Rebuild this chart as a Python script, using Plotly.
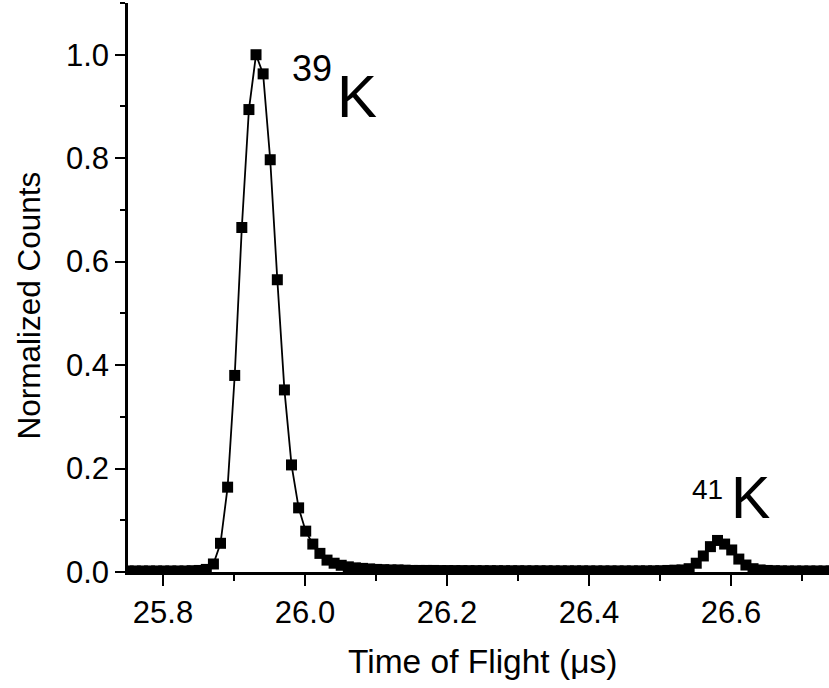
import plotly.graph_objects as go

# Time-of-flight bins (microseconds), 10 ns spacing
tof_start = 25.751
tof_step = 0.01

# Normalized counts per bin
counts = [
    # 25.751 - 25.851 : baseline before 39K
    0.002, 0.002, 0.002, 0.002, 0.002, 0.002, 0.002, 0.002, 0.002, 0.0025, 0.003,
    # 25.861 - 26.041 : 39K peak
    0.005, 0.0155, 0.0555, 0.164, 0.380, 0.666, 0.894, 1.000, 0.963, 0.797,
    0.565, 0.352, 0.207, 0.124, 0.079, 0.054, 0.036, 0.023, 0.017,
    # 26.051 - 26.151 : tail
    0.013, 0.010, 0.008, 0.007, 0.006, 0.005, 0.0045, 0.004, 0.004, 0.0035, 0.003,
    # 26.161 - 26.531 : baseline between peaks
    0.003, 0.003, 0.003, 0.0028, 0.0028, 0.0027, 0.0027, 0.0026, 0.0026, 0.0025,
    0.0025, 0.0025, 0.0024, 0.0024, 0.0024, 0.0023, 0.0023, 0.0023, 0.0023, 0.0022,
    0.0022, 0.0022, 0.0022, 0.0022, 0.0021, 0.0021, 0.0021, 0.0021, 0.0021, 0.0021,
    0.0021, 0.0022, 0.0022, 0.0023, 0.0025, 0.003, 0.0035, 0.004,
    # 26.541 - 26.631 : 41K peak
    0.0064, 0.017, 0.031, 0.049, 0.061, 0.054, 0.0426, 0.025, 0.0135, 0.0064,
    # 26.641 - 26.741 : baseline after 41K
    0.004, 0.003, 0.0025, 0.0022, 0.002, 0.002, 0.002, 0.002, 0.002, 0.002, 0.002,
]
tof = [round(tof_start + i * tof_step, 4) for i in range(len(counts))]

x_ticks = [25.8, 26.0, 26.2, 26.4, 26.6]
x_tick_text = ["25.8", "26.0", "26.2", "26.4", "26.6"]
y_ticks = [0.0, 0.2, 0.4, 0.6, 0.8, 1.0]
y_tick_text = ["0.0", "0.2", "0.4", "0.6", "0.8", "1.0"]

x_range = [25.7507, 26.738]
y_range = [0.0, 1.1]

FONT = "Arial, Liberation Sans, sans-serif"
BLACK = "#000000"

fig = go.Figure()
fig.add_trace(go.Scatter(
    x=tof, y=counts, mode="lines+markers",
    line=dict(color=BLACK, width=1.8),
    marker=dict(symbol="square", size=11, color=BLACK, line=dict(width=0)),
    showlegend=False, cliponaxis=True,
))

axis_common = dict(linecolor=BLACK, linewidth=2.5, tickcolor=BLACK, tickwidth=2,
                   showgrid=False, zeroline=False)

fig.update_layout(
    width=829, height=688,
    margin=dict(l=128, r=0, t=3, b=116, pad=0),
    paper_bgcolor="white", plot_bgcolor="white",
    font=dict(family=FONT, color=BLACK),
    xaxis=dict(
        range=x_range, tickvals=x_ticks, ticktext=x_tick_text,
        ticks="outside", ticklen=11, showline=True,
        tickfont=dict(size=31, family=FONT),
        minor=dict(dtick=0.1, tick0=25.8, ticks="outside", ticklen=6,
                   tickwidth=2, tickcolor=BLACK),
        **axis_common,
    ),
    yaxis=dict(
        range=y_range, tickvals=y_ticks, ticktext=y_tick_text,
        ticks="outside", ticklen=10, showline=True,
        tickfont=dict(size=31, family=FONT),
        minor=dict(dtick=0.1, tick0=0, ticks="outside", ticklen=5,
                   tickwidth=2, tickcolor=BLACK),
        **axis_common,
    ),
    xaxis2=dict(
        overlaying="x", side="top", range=x_range, tickvals=x_ticks,
        showticklabels=False, ticks="inside", ticklen=10, showline=True,
        minor=dict(dtick=0.1, tick0=25.8, ticks="inside", ticklen=6,
                   tickwidth=2, tickcolor=BLACK),
        **axis_common,
    ),
    yaxis2=dict(
        overlaying="y", side="right", range=y_range, tickvals=y_ticks,
        showticklabels=False, ticks="inside", ticklen=5, showline=False,
        **axis_common,
    ),
)

# Axis titles
fig.add_annotation(text="Time of Flight (\u03bcs)", xref="paper", yref="paper",
                   x=0.5, y=0, xanchor="center", yanchor="middle",
                   yshift=-89, xshift=4, showarrow=False,
                   font=dict(size=33.5, family=FONT))
fig.add_annotation(text="Normalized Counts", xref="paper", yref="paper",
                   x=0, y=0.5, xanchor="center", yanchor="middle",
                   xshift=-100, yshift=-18, textangle=-90, showarrow=False,
                   font=dict(size=31.5, family=FONT))

# Isotope labels
fig.add_annotation(text="39", x=26.0099, y=0.973, showarrow=False,
                   font=dict(size=36, family=FONT))
fig.add_annotation(text="K", x=26.073, y=0.919, showarrow=False,
                   font=dict(size=60, family=FONT))
fig.add_annotation(text="41", x=26.5665, y=0.159, showarrow=False,
                   font=dict(size=28, family=FONT))
fig.add_annotation(text="K", x=26.627, y=0.144, showarrow=False,
                   font=dict(size=59, family=FONT))

fig.write_html("out.html")
